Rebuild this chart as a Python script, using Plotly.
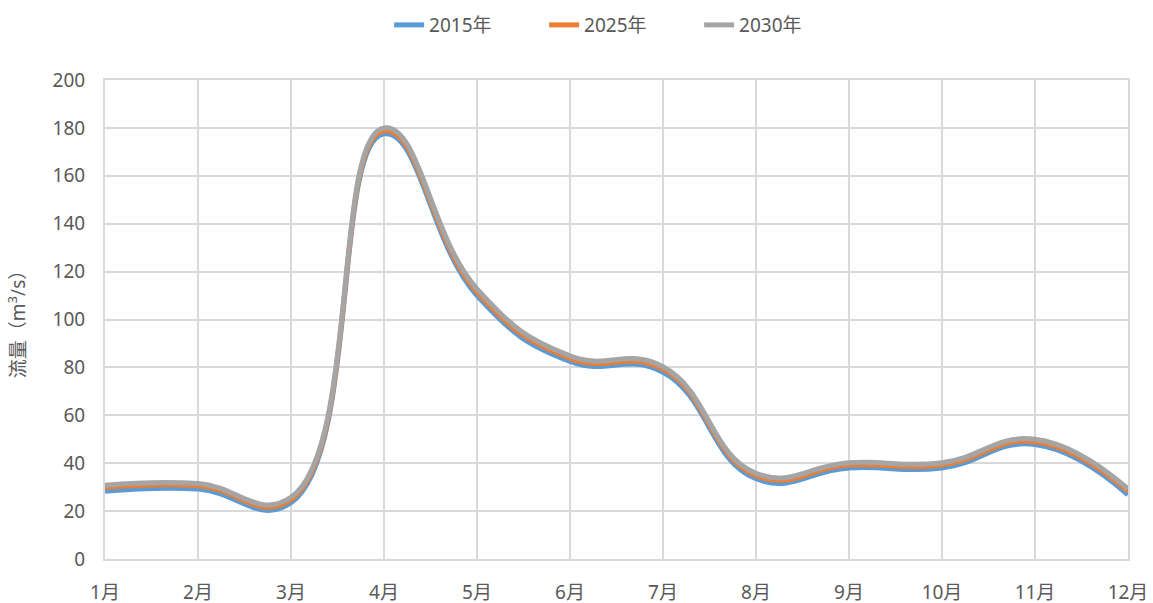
import plotly.graph_objects as go

# Monthly flow (m³/s) for three planning years
months = ["1月", "2月", "3月", "4月", "5月", "6月", "7月", "8月", "9月", "10月", "11月", "12月"]
flow_2015 = [28.3, 29.2, 23.5, 177.5, 110.0, 82.5, 78.0, 33.5, 38.0, 38.0, 47.8, 26.8]
flow_2025 = [29.8, 30.6, 24.8, 178.8, 111.5, 83.8, 79.3, 34.8, 39.2, 39.2, 49.0, 28.3]
flow_2030 = [30.8, 31.5, 25.8, 180.0, 112.8, 84.8, 80.3, 35.8, 40.2, 40.2, 50.0, 29.3]

series = [
    ("2015年", flow_2015, "#5b9bd5"),
    ("2025年", flow_2025, "#ed7d31"),
    ("2030年", flow_2030, "#a5a5a5"),
]

text_color = "#595959"
grid_color = "#d9d9d9"
font_family = "Noto Sans, Noto Sans CJK SC, sans-serif"

x_pos = list(range(1, len(months) + 1))

fig = go.Figure()
for name, values, color in series:
    fig.add_trace(go.Scatter(
        x=x_pos, y=values, name=name, mode="lines",
        line=dict(color=color, width=5, shape="spline", smoothing=1.3),
    ))

fig.update_layout(
    width=1153, height=603,
    margin=dict(l=105, r=25, t=80, b=44),
    paper_bgcolor="white", plot_bgcolor="white",
    font=dict(family=font_family, color=text_color, size=18),
    legend=dict(
        orientation="h", x=0.505, xanchor="center", y=0.99, yref="container",
        yanchor="top", font=dict(size=19, color=text_color),
        entrywidth=110, entrywidthmode="pixels", tracegroupgap=0,
    ),
    showlegend=True,
)

fig.update_xaxes(
    range=[1, 12], tickmode="array", tickvals=x_pos, ticktext=months,
    showgrid=True, gridcolor=grid_color, gridwidth=2,
    showline=True, linecolor=grid_color, linewidth=2, mirror=True,
    zeroline=False, ticks="", automargin=False, ticklabelstandoff=15,
    tickfont=dict(size=19, color=text_color),
)
fig.update_yaxes(
    range=[0, 200], dtick=20, tick0=0,
    showgrid=True, gridcolor=grid_color, gridwidth=2,
    showline=True, linecolor=grid_color, linewidth=2, mirror=True,
    zeroline=False, ticks="", automargin=False, ticklabelstandoff=14,
    tickfont=dict(size=19, color=text_color),
    title=dict(text="流量（m<sup>3</sup>/s）", font=dict(size=19, color=text_color), standoff=22),
)

fig.write_html("out.html")
